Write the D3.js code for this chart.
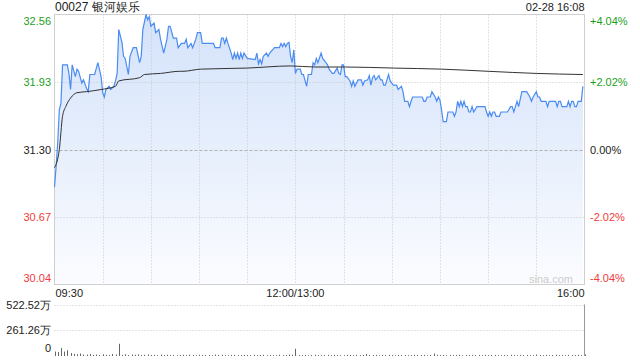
<!DOCTYPE html>
<html>
<head>
<meta charset="utf-8">
<script src="https://cdn.jsdelivr.net/npm/d3@7"></script>
<style>
  body { margin: 0; background: #fff; }
  svg { display: block; font-family: "Liberation Sans", Arial, sans-serif; }
</style>
</head>
<body>
<script>

// price ticks (left) and percent ticks (right)
const priceTicks = [32.56, 31.93, 31.30, 30.67, 30.04];
const pctLabels = ["+4.04%", "+2.02%", "0.00%", "-2.02%", "-4.04%"];
const prevClose = 31.30;

// time labels, minutes since 09:30 (lunch break removed)
const timeLabels = ["09:30", "12:00/13:00", "16:00"];
const timeLabelMinutes = [0, 150, 330];

// price line: minute -> price
const priceMinutes = [0,1,2,3,4,5,8,9,10,11,13,14,15,17,18,20,21,22,25,27,29,30,31,32,34,35,37,38,39,40,42,43,44,46,47,49,51,53,54,55,57,58,59,60,62,63,65,66,68,70,71,72,74,76,77,79,81,82,83,85,86,88,89,91,92,99,100,103,104,105,106,107,108,110,111,112,113,114,115,116,117,118,120,125,126,127,128,129,130,132,133,134,137,140,141,142,143,144,145,146,147,148,149,150,151,153,154,155,157,158,160,161,162,163,164,166,167,169,170,171,173,174,176,177,178,179,180,181,182,184,185,186,187,189,191,192,193,195,196,197,198,199,200,202,203,204,205,206,207,208,209,211,213,214,216,217,218,220,221,222,223,229,230,231,232,234,235,237,238,239,240,241,242,244,245,248,249,250,251,252,253,254,255,256,257,258,259,260,261,263,268,269,270,271,272,273,274,275,277,278,282,284,285,286,287,288,289,291,294,296,297,298,300,301,302,303,306,307,308,312,313,314,315,316,319,320,321,322,323,324,325,326,328,329];
const priceValues = [30.95,31.14,31.36,31.67,31.73,32.09,32.09,32.01,31.86,32.09,31.98,32.05,32.03,31.92,31.95,31.87,31.84,32.00,32.00,32.11,31.98,31.83,31.79,31.86,31.89,31.86,31.89,31.94,32.01,32.42,32.30,32.17,32.15,32.00,32.17,32.25,32.25,32.11,32.17,32.42,32.56,32.51,32.54,32.45,32.48,32.39,32.42,32.33,32.20,32.33,32.45,32.45,32.34,32.34,32.25,32.29,32.29,32.33,32.25,32.29,32.25,32.33,32.39,32.39,32.29,32.29,32.25,32.25,32.34,32.34,32.29,32.34,32.29,32.20,32.14,32.20,32.15,32.20,32.14,32.20,32.15,32.20,32.15,32.14,32.20,32.10,32.14,32.10,32.17,32.20,32.17,32.20,32.25,32.25,32.29,32.26,32.29,32.26,32.29,32.30,32.17,32.11,32.23,32.01,32.05,32.05,32.00,32.00,31.89,32.00,32.00,32.11,32.09,32.15,32.11,32.20,32.15,32.11,32.09,32.05,32.01,32.01,32.06,32.01,32.00,32.09,32.09,31.98,31.98,31.94,31.89,31.94,31.89,31.95,31.95,31.90,31.94,31.95,31.99,31.90,31.97,31.99,31.95,31.99,31.95,31.95,31.90,31.90,31.95,32.00,31.94,31.90,31.90,31.86,31.89,31.84,31.75,31.75,31.70,31.75,31.79,31.79,31.75,31.75,31.79,31.79,31.84,31.79,31.75,31.79,31.76,31.67,31.56,31.56,31.65,31.65,31.61,31.65,31.75,31.70,31.75,31.70,31.75,31.70,31.70,31.65,31.65,31.70,31.65,31.70,31.70,31.65,31.61,31.65,31.61,31.65,31.65,31.61,31.61,31.65,31.65,31.70,31.70,31.65,31.70,31.75,31.70,31.84,31.84,31.79,31.75,31.79,31.84,31.79,31.79,31.75,31.75,31.70,31.75,31.75,31.70,31.75,31.75,31.70,31.70,31.75,31.70,31.75,31.75,31.70,31.70,31.75,31.75,31.89];

// average price line
const avgMinutes = [0,3,5,7,10,14,20,29,38,40,53,56,66,78,80,91,120,147,162,181,211,241,270,300,329];
const avgValues = [31.13,31.30,31.61,31.70,31.78,31.83,31.84,31.86,31.89,31.94,31.97,32.00,32.01,32.03,32.03,32.05,32.06,32.08,32.07,32.07,32.06,32.05,32.03,32.01,32.00];

// volume (万), one value every 2 minutes
const volTicks = [522.52, 261.26, 0];
const volValues = [45,40,80,45,58,30,22,18,25,15,14,20,12,15,10,18,12,10,20,15,124,12,18,10,14,12,16,10,12,15,10,12,8,14,10,12,9,11,8,10,12,9,14,10,8,12,10,9,11,8,14,10,12,9,8,10,12,8,9,11,10,8,12,9,10,11,8,10,9,8,12,9,10,14,12,73,10,9,11,8,10,12,9,8,10,11,9,12,10,8,9,11,10,8,12,9,10,20,10,9,11,8,10,9,12,10,8,11,9,10,8,9,12,10,9,11,8,10,25,12,9,10,8,11,9,10,12,8,9,10,11,9,10,8,12,9,10,11,9,8,10,9,12,10,8,11,9,10,8,9,15,10,9,11,8,10,12,9,10,8,11,9,10,12,9,14];

const width = 640;
const height = 360;
const plotLeft = 54.5;
const plotRight = 584.5;
const plotTop = 14.5;
const plotBottom = 284.5;
const volTop = 304.5;
const volBottom = 356;

const green = "#1c9f1c";
const red = "#f03c3c";

const x = d3.scaleLinear([0, 330], [plotLeft, plotRight]);
const y = d3.scaleLinear([30.04, 32.56], [plotBottom, plotTop]);
const yv = d3.scaleLinear([0, 522.52], [volBottom, volTop]);

const svg = d3.create("svg")
    .attr("width", width)
    .attr("height", height)
    .attr("viewBox", [0, 0, width, height]);

const defs = svg.append("defs");
const grad = defs.append("linearGradient")
    .attr("id", "fillGrad")
    .attr("x1", 0).attr("y1", 0).attr("x2", 0).attr("y2", 1);
grad.append("stop").attr("offset", "0%").attr("stop-color", "#d3e2fa");
grad.append("stop").attr("offset", "100%").attr("stop-color", "#fbfcff");

// title and date
svg.append("text")
    .attr("x", plotLeft + 0.5)
    .attr("y", 11)
    .attr("font-size", 12)
    .attr("fill", "#222")
    .text("00027 银河娱乐");

svg.append("text")
    .attr("x", plotRight)
    .attr("y", 11)
    .attr("text-anchor", "end")
    .attr("font-size", 11)
    .attr("fill", "#222")
    .text("02-28 16:08");

// price area + line
const priceData = priceMinutes.map((m, i) => ({m: m, v: priceValues[i]}));
const area = d3.area()
    .x(d => x(d.m))
    .y0(plotBottom)
    .y1(d => y(d.v));
svg.append("path")
    .attr("fill", "url(#fillGrad)")
    .attr("d", area(priceData));

// grid lines
const gridG = svg.append("g");
d3.range(1, 11).forEach(i => {
    gridG.append("line")
        .attr("x1", Math.round(x(i * 30)) + 0.5).attr("x2", Math.round(x(i * 30)) + 0.5)
        .attr("y1", plotTop).attr("y2", plotBottom)
        .attr("stroke", "#c8c8c8")
        .attr("stroke-dasharray", "1,2");
});
priceTicks.slice(1, 4).forEach(t => {
    gridG.append("line")
        .attr("x1", plotLeft).attr("x2", plotRight)
        .attr("y1", Math.round(y(t)) + 0.5).attr("y2", Math.round(y(t)) + 0.5)
        .attr("stroke", t == prevClose ? "#b0b0b0" : "#c8c8c8")
        .attr("stroke-dasharray", t == prevClose ? "3,2" : "1,2");
});

// frame
svg.append("rect")
    .attr("x", plotLeft).attr("y", plotTop)
    .attr("width", plotRight - plotLeft).attr("height", plotBottom - plotTop)
    .attr("fill", "none")
    .attr("stroke", "#cfcfcf");

// watermark
svg.append("text")
    .attr("x", 573)
    .attr("y", 283)
    .attr("text-anchor", "end")
    .attr("font-size", 11)
    .attr("fill", "#cccccc")
    .text("sina.com");

const line = d3.line()
    .x(d => x(d.m))
    .y(d => y(d.v));
svg.append("path")
    .attr("fill", "none")
    .attr("stroke", "#4a8cf2")
    .attr("stroke-width", 1.2)
    .attr("d", line(priceData));

const avgData = avgMinutes.map((m, i) => ({m: m, v: avgValues[i]}));
svg.append("path")
    .attr("fill", "none")
    .attr("stroke", "#333")
    .attr("stroke-width", 1)
    .attr("d", d3.line().curve(d3.curveMonotoneX).x(d => x(d.m)).y(d => y(d.v))(avgData));

// left price labels and right pct labels
priceTicks.forEach((t, i) => {
    let ty = y(t) + 4;
    if (i == 0) ty = y(t) + 10;
    if (i == priceTicks.length - 1) ty = y(t) - 3;
    const col = t > prevClose ? green : (t < prevClose ? red : "#222");
    svg.append("text")
        .attr("x", 51).attr("y", ty)
        .attr("text-anchor", "end")
        .attr("font-size", 11)
        .attr("fill", col)
        .text(t.toFixed(2));
    svg.append("text")
        .attr("x", 590).attr("y", ty)
        .attr("font-size", 11)
        .attr("fill", col)
        .text(pctLabels[i]);
});

// time labels
timeLabels.forEach((t, i) => {
    const anchor = i == 0 ? "start" : (i == timeLabels.length - 1 ? "end" : "middle");
    svg.append("text")
        .attr("x", x(timeLabelMinutes[i]) + (i == 0 ? 1 : 0))
        .attr("y", 297)
        .attr("text-anchor", anchor)
        .attr("font-size", 11)
        .attr("fill", "#222")
        .text(t);
});

// volume panel
volTicks.forEach((t, i) => {
    if (t > 0) {
        svg.append("line")
            .attr("x1", plotLeft).attr("x2", plotRight)
            .attr("y1", Math.round(yv(t)) + 0.5).attr("y2", Math.round(yv(t)) + 0.5)
            .attr("stroke", "#c8c8c8")
            .attr("stroke-dasharray", "1,2");
    }
    svg.append("text")
        .attr("x", 51).attr("y", i == volTicks.length - 1 ? 352 : yv(t) + 4)
        .attr("text-anchor", "end")
        .attr("font-size", 11)
        .attr("fill", "#222")
        .text(t == 0 ? "0" : t.toFixed(2) + "万");
});
svg.append("line")
    .attr("x1", plotRight).attr("x2", plotRight)
    .attr("y1", volTop).attr("y2", volBottom)
    .attr("stroke", "#999");

svg.append("g")
    .selectAll("line")
    .data(volValues)
    .join("line")
    .attr("x1", (d, i) => Math.round(x(i * 2)) + 0.5)
    .attr("x2", (d, i) => Math.round(x(i * 2)) + 0.5)
    .attr("y1", volBottom)
    .attr("y2", d => yv(d))
    .attr("stroke", "#666")
    .attr("stroke-width", 1);

document.body.appendChild(svg.node());
</script>
</body>
</html>
